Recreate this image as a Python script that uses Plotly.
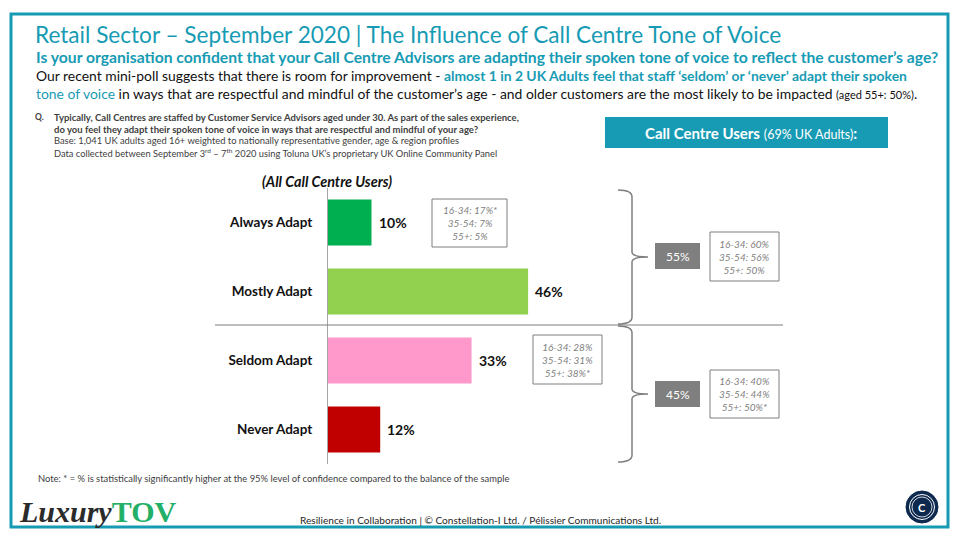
import plotly.graph_objects as go

# data
categories = ['Always Adapt', 'Mostly Adapt', 'Seldom Adapt', 'Never Adapt']
values = [10, 46, 33, 12]
bar_colors = ['#00b050', '#92d050', '#ff99cc', '#c00000']
age_notes = ['16-34: 17%*<br>35-54: 7%<br>55+: 5%', '', '16-34: 28%<br>35-54: 31%<br>55+: 38%*', '']
net_labels = ['55%', '45%']
net_notes = ['16-34: 60%<br>35-54: 56%<br>55+: 50%', '16-34: 40%<br>35-54: 44%<br>55+: 50%*']

TEAL = '#179bb4'
GREY = '#7f7f7f'
FONT = 'Lato'
W, H = 960, 540


def px(x):
    return x / W


def py(y):
    return 1 - y / H


fig = go.Figure()
fig.add_trace(go.Bar(
    x=values, y=categories, orientation='h',
    marker=dict(color=bar_colors, line=dict(width=0)),
    width=0.667, hoverinfo='skip'))

shapes = []
ann = []

# outer frame
shapes.append(dict(type='rect', xref='paper', yref='paper', x0=px(11), x1=px(948), y0=py(14), y1=py(527),
                   line=dict(color=TEAL, width=3)))

# titles
ann.append(dict(x=px(33), y=py(35), text='Retail Sector – September 2020 | The Influence of Call Centre Tone of Voice',
                font=dict(family=FONT, size=22.6, color=TEAL)))
ann.append(dict(x=px(34), y=py(57),
                text='<b>Is your organisation confident that your Call Centre Advisors are adapting their spoken tone of voice to reflect the customer’s age?</b>',
                font=dict(family=FONT, size=15.7, color=TEAL)))
ann.append(dict(x=px(34), y=py(76),
                text='Our recent mini-poll suggests that there is room for improvement - '
                     f'<b><span style="color:{TEAL}">almost 1 in 2 UK Adults feel that staff ‘seldom’ or ‘never’ adapt their spoken</span></b>',
                font=dict(family=FONT, size=13.9, color='#111111')))
ann.append(dict(x=px(34), y=py(94),
                text=f'<span style="color:{TEAL}">tone of voice</span> in ways that are respectful and mindful of the customer’s age - '
                     'and older customers are the most likely to be impacted <span style="font-size:11px">(aged 55+: 50%)</span>.',
                font=dict(family=FONT, size=13.9, color='#111111')))

# question block
ann.append(dict(x=px(33), y=py(117), text='<b>Q.</b>', font=dict(family=FONT, size=8.5, color='#404040')))
q_lines = ['<b>Typically, Call Centres are staffed by Customer Service Advisors aged under 30. As part of the sales experience,</b>',
           '<b>do you feel they adapt their spoken tone of voice in ways that are respectful and mindful of your age?</b>',
           'Base: 1,041 UK adults aged 16+ weighted to nationally representative gender, age &amp; region profiles',
           'Data collected between September 3<sup>rd</sup> – 7<sup>th</sup> 2020 using Toluna UK’s proprietary UK Online Community Panel']
q_sizes = [9.5, 9.5, 9.35, 9.3]
for i, (line, s) in enumerate(zip(q_lines, q_sizes)):
    ann.append(dict(x=px(52), y=py(117 + 12 * i), text=line, font=dict(family=FONT, size=s, color='#404040')))

# call centre users box
shapes.append(dict(type='rect', xref='paper', yref='paper', x0=px(605), x1=px(888), y0=py(117), y1=py(148),
                   fillcolor=TEAL, line=dict(width=0)))
ann.append(dict(x=px(751), y=py(133), xanchor='center',
                text='<b>Call Centre Users</b> <span style="font-size:12.5px">(69% UK Adults)</span><b>:</b>',
                font=dict(family=FONT, size=15, color='white')))

ann.append(dict(x=px(327), y=py(181), xanchor='center', text='<b><i>(All Call Centre Users)</i></b>',
                font=dict(family=FONT, size=14.4, color='#111111')))

# value labels
for c, v in zip(categories, values):
    ann.append(dict(x=v, y=c, xref='x', yref='y', xanchor='left', xshift=5, text=f'<b>{v}%</b>',
                    font=dict(family=FONT, size=14, color='#111111')))

# separator
shapes.append(dict(type='line', xref='paper', yref='paper', x0=px(215), x1=px(783), y0=py(325), y1=py(325),
                   line=dict(color=GREY, width=1.2)))

# age notes next to bars
note_boxes = {0: (432, 507, 199, 247), 2: (533, 602, 335, 384)}
for i, (x0, x1, y0, y1) in note_boxes.items():
    shapes.append(dict(type='rect', xref='paper', yref='paper', x0=px(x0), x1=px(x1), y0=py(y0), y1=py(y1),
                       line=dict(color=GREY, width=1), fillcolor='white'))
    ann.append(dict(x=px((x0 + x1) / 2), y=py((y0 + y1) / 2), xanchor='center', align='center',
                    text=f'<i>{age_notes[i]}</i>', font=dict(family=FONT, size=10, color=GREY)))

# braces
def brace(top, bot, tip):
    return (f'M {px(618)},{py(top)} Q {px(632)},{py(top)} {px(632)},{py(top + 7)} '
            f'L {px(632)},{py(tip - 5)} Q {px(632)},{py(tip)} {px(648)},{py(tip)} '
            f'Q {px(632)},{py(tip)} {px(632)},{py(tip + 5)} '
            f'L {px(632)},{py(bot - 7)} Q {px(632)},{py(bot)} {px(618)},{py(bot)}')


for top, bot, tip in [(190, 324, 257), (326, 462, 394)]:
    shapes.append(dict(type='path', xref='paper', yref='paper', path=brace(top, bot, tip),
                       line=dict(color=GREY, width=1.5)))

# net boxes
for lab, note, (y0, y1, ny0, ny1) in zip(net_labels, net_notes, [(243, 269, 232, 281), (381, 407, 370, 418)]):
    shapes.append(dict(type='rect', xref='paper', yref='paper', x0=px(655), x1=px(700), y0=py(y0), y1=py(y1),
                       fillcolor=GREY, line=dict(width=0)))
    ann.append(dict(x=px(677.5), y=py((y0 + y1) / 2), xanchor='center', text=lab,
                    font=dict(family=FONT, size=12, color='white')))
    shapes.append(dict(type='rect', xref='paper', yref='paper', x0=px(710), x1=px(779), y0=py(ny0), y1=py(ny1),
                       line=dict(color=GREY, width=1), fillcolor='white'))
    ann.append(dict(x=px(744.5), y=py((ny0 + ny1) / 2), xanchor='center', align='center',
                    text=f'<i>{note}</i>', font=dict(family=FONT, size=10, color=GREY)))

# footer
ann.append(dict(x=px(36), y=py(478), text='Note: * = % is statistically significantly higher at the 95% level of confidence compared to the balance of the sample',
                font=dict(family=FONT, size=9.4, color='#404040')))
ann.append(dict(x=px(17), y=py(511),
                text='<b><i>Luxury</i></b><b><span style="color:#22b068">TOV</span></b>',
                font=dict(family='Liberation Serif', size=30, color='#2b2b2b')))
ann.append(dict(x=px(480), y=py(520), xanchor='center',
                text='Resilience in Collaboration | © Constellation-I Ltd. / Pélissier Communications Ltd.',
                font=dict(family=FONT, size=10.1, color='#262626')))

# logo
cx, cy = 922, 507
for r, fill, lc, lw in [(16, '#0d2a4e', '#0d2a4e', 1), (12.5, 'rgba(0,0,0,0)', 'white', 1), (10, 'rgba(0,0,0,0)', 'white', 0.8)]:
    shapes.append(dict(type='circle', xref='paper', yref='paper', x0=px(cx - r), x1=px(cx + r), y0=py(cy - r), y1=py(cy + r),
                       fillcolor=fill, line=dict(color=lc, width=lw)))
ann.append(dict(x=px(cx), y=py(cy), xanchor='center', text='<b>C</b>', font=dict(family=FONT, size=11, color='white')))

for a in ann:
    a.setdefault('xref', 'paper')
    a.setdefault('yref', 'paper')
    a.setdefault('xanchor', 'left')
    a.setdefault('yanchor', 'middle')
    a.setdefault('align', 'left')
    a['showarrow'] = False

fig.update_layout(
    width=W, height=H, margin=dict(l=0, r=0, t=0, b=0),
    paper_bgcolor='white', plot_bgcolor='white', showlegend=False,
    bargap=0.333,
    xaxis=dict(domain=[px(328), px(784)], range=[0, (784 - 328) / 4.35], visible=False, fixedrange=True),
    yaxis=dict(domain=[py(464), py(188)], autorange='reversed', showline=True, linecolor='#a6a6a6', linewidth=1,
               showgrid=False, zeroline=False, ticks='', ticklabelstandoff=12, fixedrange=True,
               tickfont=dict(family=FONT, size=13.5, color='#111111'),
               tickvals=categories, ticktext=[f'<b>{c}</b>' for c in categories]),
    shapes=shapes, annotations=ann,
)

# page body has a default 8px margin, drop it so the figure sits at the window origin
fig.write_html('out.html', config={'displayModeBar': False},
               post_script="document.body.style.margin='0';document.body.style.overflow='hidden';")
